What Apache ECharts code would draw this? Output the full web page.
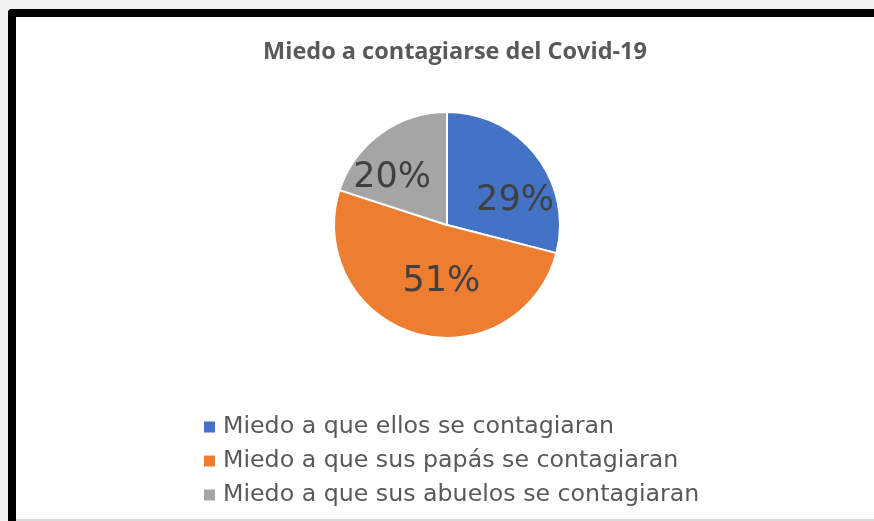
<!DOCTYPE html>
<html>
	<head>
		<meta charset="utf-8">
		<title>Miedo a contagiarse del Covid-19</title>
		<script src="https://cdn.jsdelivr.net/npm/echarts@6/dist/echarts.min.js"></script>
		<style>
			html, body { margin: 0; padding: 0; background: #f0f0f0; }
			#main { position: absolute; left: 0; top: 0; width: 874px; height: 521px; background: #fff; }
			.edge { position: absolute; }
		</style>
	</head>
	<body>
		<div id="main"></div>
		<!-- marco de la captura -->
		<div class="edge" style="left:0;top:0;width:874px;height:9px;background:#f0f0f0"></div>
		<div class="edge" style="left:0;top:0;width:8px;height:521px;background:#f0f0f0"></div>
		<div class="edge" style="left:8px;top:9px;width:866px;height:8px;background:#000;border-top-left-radius:4px"></div>
		<div class="edge" style="left:8px;top:9px;width:8px;height:512px;background:#000;border-top-left-radius:4px"></div>
		<div class="edge" style="left:16px;top:519px;width:858px;height:2px;background:#d9d9d9"></div>
		<script type="text/javascript">
			var categorias = ['Miedo a que ellos se contagiaran', 'Miedo a que sus papás se contagiaran', 'Miedo a que sus abuelos se contagiaran'];
			var valores = [29, 51, 20];
			var colores = ['#4472C4', '#ED7D31', '#A5A5A5'];
			// desplazamiento de cada etiqueta dentro de su sector
			var desplaz = [[21, 12], [11, 0], [-20, 1]];

			var datos = [];
			for (var i = 0; i < categorias.length; i++) {
				datos.push({
					name: categorias[i],
					value: valores[i],
					itemStyle: { color: colores[i] },
					label: { offset: desplaz[i] }
				});
			}

			var myChart = echarts.init(document.getElementById('main'));
			var option = {
				animation: false,
				title: {
					text: 'Miedo a contagiarse del Covid-19',
					left: 450,
					textAlign: 'center',
					top: 35,
					textStyle: {
						fontFamily: 'Open Sans',
						fontWeight: 'bold',
						fontSize: 23.5,
						color: '#595959'
					}
				},
				legend: {
					orient: 'vertical',
					left: 197,
					top: 410,
					itemWidth: 13,
					itemHeight: 13,
					itemGap: 10,
					icon: 'rect',
					data: categorias,
					textStyle: {
						fontFamily: 'DejaVu Sans',
						fontSize: 23.7,
						color: '#595959',
						padding: [0, 0, 0, 2]
					}
				},
				series: [{
					type: 'pie',
					center: [447, 225],
					radius: 113,
					startAngle: 90,
					clockwise: true,
					itemStyle: {
						borderColor: '#fff',
						borderWidth: 2
					},
					label: {
						show: true,
						position: 'inside',
						formatter: '{c}%',
						fontFamily: 'DejaVu Sans',
						fontSize: 35,
						color: '#404040'
					},
					labelLine: { show: false },
					data: datos
				}]
			};
			myChart.setOption(option);
		</script>
	</body>
</html>
